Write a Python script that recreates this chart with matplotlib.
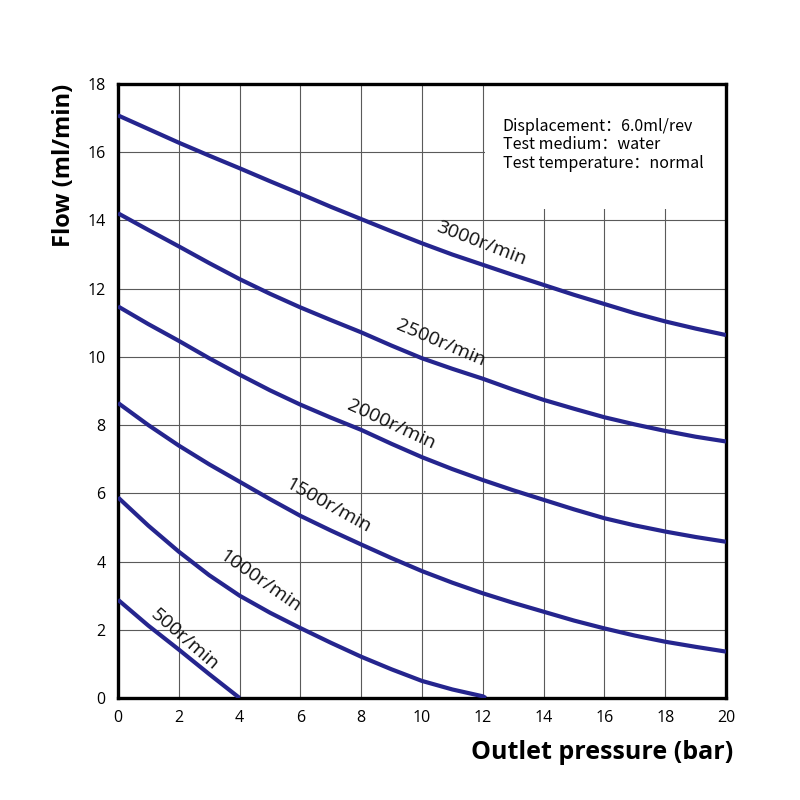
import matplotlib
matplotlib.use('Agg')
import matplotlib.pyplot as plt
from matplotlib.patches import Rectangle

plt.rcParams['font.family'] = ['Open Sans', 'DejaVu Sans']

# Data (flow in ml/min vs outlet pressure in bar)
pressure = [0, 1, 2, 3, 4, 5, 6, 7, 8, 9, 10, 11, 12, 13, 14, 15, 16, 17, 18, 19, 20]
flow_3000 = [17.08, 16.68, 16.28, 15.90, 15.53, 15.15, 14.78, 14.40, 14.04, 13.68, 13.33,
             13.00, 12.70, 12.40, 12.11, 11.82, 11.55, 11.28, 11.04, 10.83, 10.64]
flow_2500 = [14.21, 13.72, 13.24, 12.75, 12.28, 11.85, 11.45, 11.08, 10.72, 10.33, 9.96,
             9.65, 9.36, 9.04, 8.74, 8.48, 8.23, 8.02, 7.83, 7.66, 7.52]
flow_2000 = [11.48, 10.96, 10.47, 9.96, 9.48, 9.02, 8.60, 8.22, 7.86, 7.45, 7.06,
             6.71, 6.39, 6.09, 5.81, 5.53, 5.27, 5.06, 4.88, 4.72, 4.58]
flow_1500 = [8.65, 8.00, 7.40, 6.85, 6.34, 5.83, 5.34, 4.91, 4.50, 4.10, 3.72,
             3.38, 3.07, 2.79, 2.53, 2.27, 2.04, 1.83, 1.65, 1.50, 1.36]
pressure_1000 = [0, 1, 2, 3, 4, 5, 6, 7, 8, 9, 10, 11, 12, 12.1]
flow_1000 = [5.88, 5.05, 4.29, 3.60, 3.00, 2.50, 2.05, 1.62, 1.21, 0.84, 0.50, 0.25, 0.05, 0.0]
pressure_500 = [0, 1, 2, 3, 4]
flow_500 = [2.88, 2.12, 1.42, 0.70, 0.0]

series = [
    (pressure, flow_3000, '3000r/min', 11.95, 13.32, -21),
    (pressure, flow_2500, '2500r/min', 10.6, 10.42, -23),
    (pressure, flow_2000, '2000r/min', 8.98, 8.02, -25),
    (pressure, flow_1500, '1500r/min', 6.9, 5.64, -29),
    (pressure_1000, flow_1000, '1000r/min', 4.66, 3.42, -35),
    (pressure_500, flow_500, '500r/min', 2.2, 1.7, -41),
]

notes = ['Displacement\uff1a6.0ml/rev', 'Test medium\uff1awater', 'Test temperature\uff1anormal']
LINE_COLOR = '#25258e'

fig = plt.figure(figsize=(8, 8), dpi=100)
ax = fig.add_axes([0.1475, 0.1275, 0.76, 0.7675])

for xs, ys, label, lx, ly, rot in series:
    ax.plot(xs, ys, color=LINE_COLOR, linewidth=3.0, solid_joinstyle='round',
            solid_capstyle='butt', zorder=4)
    ax.text(lx, ly, label, rotation=rot, ha='center', va='center',
            fontsize=14, color='#111111', zorder=5)

ax.set_xlim(0, 20)
ax.set_ylim(0, 18)
ax.set_xticks(range(0, 21, 2))
ax.set_yticks(range(0, 19, 2))
ax.grid(True, color='#5a5a5a', linewidth=0.8, zorder=1)
ax.set_axisbelow(True)
ax.tick_params(length=0, labelsize=11.5, pad=9)

# blank area behind the test conditions text
ax.add_patch(Rectangle((12.06, 14.35), 7.94, 3.65, facecolor='white', edgecolor='none', zorder=2))
ax.text(12.66, 17.0, '\n'.join(notes), ha='left', va='top', fontsize=11.5,
        linespacing=1.1, family=['Noto Sans CJK SC', 'DejaVu Sans'], zorder=5)

for spine in ax.spines.values():
    spine.set_linewidth(2.4)
    spine.set_color('black')

ax.set_xlabel('Outlet pressure (bar)', fontsize=18, fontweight='bold', ha='right')
ax.xaxis.set_label_coords(1.012, -0.068, transform=ax.transAxes)
ax.xaxis.label.set_va('top')
ax.set_ylabel('Flow (ml/min)', fontsize=17, fontweight='bold', loc='top', labelpad=8)

fig.savefig('out.png', dpi=100, facecolor='white')
